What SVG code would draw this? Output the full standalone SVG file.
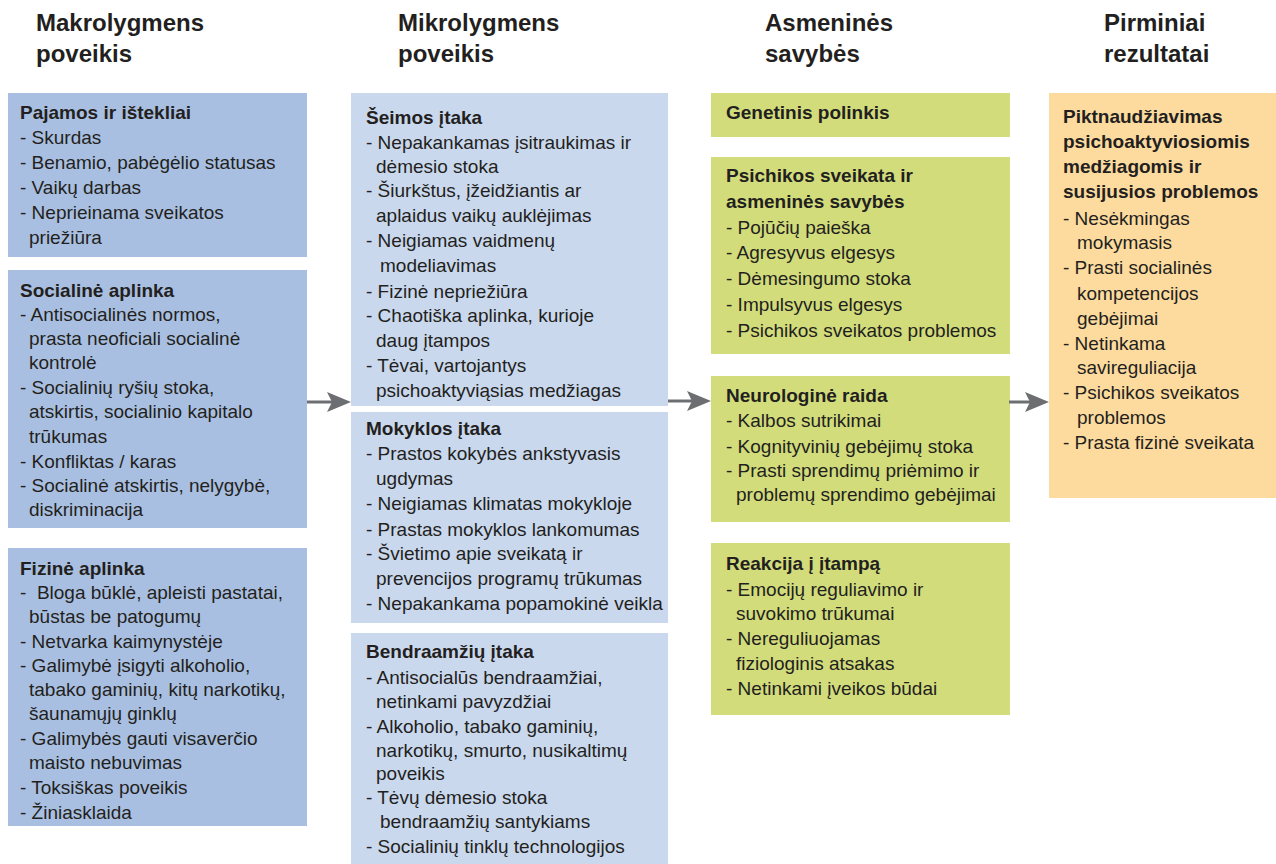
<svg xmlns="http://www.w3.org/2000/svg" width="1276" height="864" viewBox="0 0 1276 864">
<style>
text{font-family:"Liberation Sans",Arial,sans-serif;fill:#231f20;font-size:19px}
.h{font-size:24px;font-weight:bold}
.b{font-weight:bold}
.c1{fill:#a9bfe1}.c2{fill:#cad8ee}.c3{fill:#d2dc7b}.c4{fill:#fddb9e}
.arr{stroke:#6d6e71;stroke-width:3;fill:none}
</style>
<defs>
<marker id="ah" markerUnits="userSpaceOnUse" markerWidth="26" markerHeight="22" refX="9" refY="10" orient="auto">
<path d="M24,10 L0,0 L5,10 L0,20 Z" fill="#6d6e71"/>
</marker>
</defs>

<g id="headers">
<text class="h" x="36" y="31">Makrolygmens</text><text class="h" x="36" y="62">poveikis</text>
<text class="h" x="398" y="31">Mikrolygmens</text><text class="h" x="398" y="62">poveikis</text>
<text class="h" x="765" y="31">Asmeninės</text><text class="h" x="765" y="62">savybės</text>
<text class="h" x="1104" y="31">Pirminiai</text><text class="h" x="1104" y="62">rezultatai</text>
</g>

<g id="pajamos">
<rect class="c1" x="8" y="93" width="299" height="164"/>
<text><tspan class="b" x="20" y="119">Pajamos ir ištekliai</tspan><tspan x="20" y="144">- Skurdas</tspan><tspan x="20" y="169">- Benamio, pabėgėlio statusas</tspan><tspan x="20" y="194">- Vaikų darbas</tspan><tspan x="20" y="219">- Neprieinama sveikatos</tspan><tspan x="29" y="244">priežiūra</tspan></text>
</g>

<g id="socialine">
<rect class="c1" x="8" y="270" width="299" height="258"/>
<text><tspan class="b" x="20" y="297">Socialinė aplinka</tspan><tspan x="20" y="321">- Antisocialinės normos,</tspan><tspan x="29" y="345">prasta neoficiali socialinė</tspan><tspan x="29" y="369">kontrolė</tspan><tspan x="20" y="394">- Socialinių ryšių stoka,</tspan><tspan x="29" y="418">atskirtis, socialinio kapitalo</tspan><tspan x="29" y="443">trūkumas</tspan><tspan x="20" y="468">- Konfliktas / karas</tspan><tspan x="20" y="492">- Socialinė atskirtis, nelygybė,</tspan><tspan x="29" y="516">diskriminacija</tspan></text>
</g>

<g id="fizine">
<rect class="c1" x="8" y="548" width="299" height="278"/>
<text><tspan class="b" x="20" y="575">Fizinė aplinka</tspan><tspan x="20" y="599">-&#160; Bloga būklė, apleisti pastatai,</tspan><tspan x="29" y="623">būstas be patogumų</tspan><tspan x="20" y="648">- Netvarka kaimynystėje</tspan><tspan x="20" y="672">- Galimybė įsigyti alkoholio,</tspan><tspan x="29" y="696">tabako gaminių, kitų narkotikų,</tspan><tspan x="29" y="720">šaunamųjų ginklų</tspan><tspan x="20" y="745">- Galimybės gauti visaverčio</tspan><tspan x="29" y="769">maisto nebuvimas</tspan><tspan x="20" y="794">- Toksiškas poveikis</tspan><tspan x="20" y="819">- Žiniasklaida</tspan></text>
</g>

<g id="seimos">
<rect class="c2" x="351" y="93" width="317" height="313"/>
<text><tspan class="b" x="366" y="124">Šeimos įtaka</tspan><tspan x="366" y="149">- Nepakankamas įsitraukimas ir</tspan><tspan x="376" y="173">dėmesio stoka</tspan><tspan x="366" y="197">- Šiurkštus, įžeidžiantis ar</tspan><tspan x="376" y="222">aplaidus vaikų auklėjimas</tspan><tspan x="366" y="247">- Neigiamas vaidmenų</tspan><tspan x="380" y="272">modeliavimas</tspan><tspan x="366" y="298">- Fizinė nepriežiūra</tspan><tspan x="366" y="322">- Chaotiška aplinka, kurioje</tspan><tspan x="376" y="347">daug įtampos</tspan><tspan x="366" y="372">- Tėvai, vartojantys</tspan><tspan x="376" y="397">psichoaktyviąsias medžiagas</tspan></text>
</g>

<g id="mokyklos">
<rect class="c2" x="351" y="412" width="317" height="211"/>
<text><tspan class="b" x="366" y="435">Mokyklos įtaka</tspan><tspan x="366" y="460">- Prastos kokybės ankstyvasis</tspan><tspan x="376" y="485">ugdymas</tspan><tspan x="366" y="510">- Neigiamas klimatas mokykloje</tspan><tspan x="366" y="536">- Prastas mokyklos lankomumas</tspan><tspan x="366" y="560">- Švietimo apie sveikatą ir</tspan><tspan x="376" y="585">prevencijos programų trūkumas</tspan><tspan x="366" y="610">- Nepakankama popamokinė veikla</tspan></text>
</g>

<g id="bendraamziu">
<rect class="c2" x="351" y="633" width="317" height="231"/>
<text><tspan class="b" x="366" y="658">Bendraamžių įtaka</tspan><tspan x="366" y="684">- Antisocialūs bendraamžiai,</tspan><tspan x="376" y="708">netinkami pavyzdžiai</tspan><tspan x="366" y="733">- Alkoholio, tabako gaminių,</tspan><tspan x="376" y="757">narkotikų, smurto, nusikaltimų</tspan><tspan x="376" y="780">poveikis</tspan><tspan x="366" y="804">- Tėvų dėmesio stoka</tspan><tspan x="380" y="828">bendraamžių santykiams</tspan><tspan x="366" y="853">- Socialinių tinklų technologijos</tspan></text>
</g>

<g id="genetinis">
<rect class="c3" x="711" y="93" width="299" height="44"/>
<text class="b" x="726" y="119">Genetinis polinkis</text>
</g>

<g id="psichikos">
<rect class="c3" x="711" y="157" width="299" height="197"/>
<text><tspan class="b" x="726" y="182">Psichikos sveikata ir</tspan><tspan class="b" x="726" y="208">asmeninės savybės</tspan><tspan x="726" y="234">- Pojūčių paieška</tspan><tspan x="726" y="259">- Agresyvus elgesys</tspan><tspan x="726" y="285">- Dėmesingumo stoka</tspan><tspan x="726" y="311">- Impulsyvus elgesys</tspan><tspan x="726" y="337">- Psichikos sveikatos problemos</tspan></text>
</g>

<g id="neurologine">
<rect class="c3" x="711" y="376" width="299" height="146"/>
<text><tspan class="b" x="726" y="402">Neurologinė raida</tspan><tspan x="726" y="427">- Kalbos sutrikimai</tspan><tspan x="726" y="453">- Kognityvinių gebėjimų stoka</tspan><tspan x="726" y="477">- Prasti sprendimų priėmimo ir</tspan><tspan x="736" y="501">problemų sprendimo gebėjimai</tspan></text>
</g>

<g id="reakcija">
<rect class="c3" x="711" y="543" width="299" height="172"/>
<text><tspan class="b" x="726" y="570">Reakcija į įtampą</tspan><tspan x="726" y="596">- Emocijų reguliavimo ir</tspan><tspan x="736" y="620">suvokimo trūkumai</tspan><tspan x="726" y="645">- Nereguliuojamas</tspan><tspan x="736" y="670">fiziologinis atsakas</tspan><tspan x="726" y="695">- Netinkami įveikos būdai</tspan></text>
</g>

<g id="pirminiai">
<rect class="c4" x="1049" y="93" width="227" height="405"/>
<text><tspan class="b" x="1063" y="123">Piktnaudžiavimas</tspan><tspan class="b" x="1063" y="148">psichoaktyviosiomis</tspan><tspan class="b" x="1063" y="173">medžiagomis ir</tspan><tspan class="b" x="1063" y="198">susijusios problemos</tspan><tspan x="1063" y="225">- Nesėkmingas</tspan><tspan x="1077" y="249">mokymasis</tspan><tspan x="1063" y="274">- Prasti socialinės</tspan><tspan x="1077" y="300">kompetencijos</tspan><tspan x="1077" y="325">gebėjimai</tspan><tspan x="1063" y="350">- Netinkama</tspan><tspan x="1077" y="374">savireguliacija</tspan><tspan x="1063" y="399">- Psichikos sveikatos</tspan><tspan x="1077" y="424">problemos</tspan><tspan x="1063" y="449">- Prasta fizinė sveikata</tspan></text>
</g>

<g id="connectors">
<line class="arr" x1="307" y1="402" x2="336" y2="402" marker-end="url(#ah)"/>
<line class="arr" x1="668" y1="401" x2="696" y2="401" marker-end="url(#ah)"/>
<line class="arr" x1="1009" y1="402" x2="1034" y2="402" marker-end="url(#ah)"/>
</g>
</svg>
